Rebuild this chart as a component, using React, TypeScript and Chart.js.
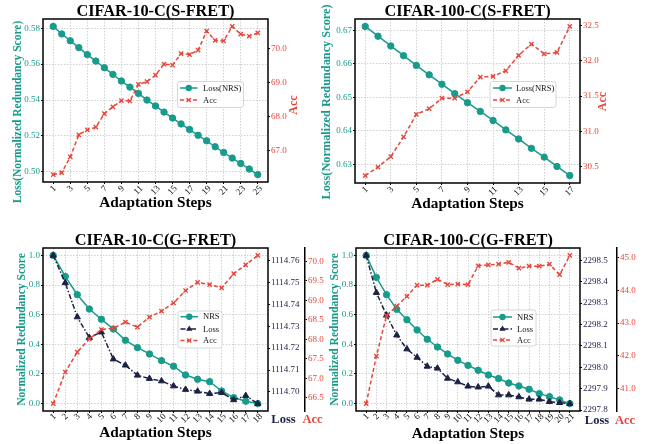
import React, { useEffect, useRef } from "react";
import { Chart, registerables } from "chart.js";

Chart.register(...registerables);

const SERIF = '"Liberation Serif", "Times New Roman", Times, serif';
const TEAL = "#179b8b";
const RED = "#e8463b";
const NAVY = "#1c2144";
const GRID = "#c4c4c4";

// ---------------- data ----------------
const steps10S = [1, 2, 3, 4, 5, 6, 7, 8, 9, 10, 11, 12, 13, 14, 15, 16, 17, 18, 19, 20, 21, 22, 23, 24, 25];
const loss10S = [0.581, 0.5768, 0.573, 0.5692, 0.5653, 0.5617, 0.558, 0.5543, 0.5506, 0.5472, 0.5437, 0.54, 0.5367, 0.5333, 0.53, 0.5267, 0.5236, 0.5204, 0.5173, 0.514, 0.5108, 0.5077, 0.5047, 0.5016, 0.4985];
const acc10S = [66.28, 66.34, 66.8, 67.45, 67.6, 67.68, 68.08, 68.28, 68.46, 68.45, 68.94, 69.02, 69.21, 69.54, 69.51, 69.85, 69.82, 69.95, 70.51, 70.24, 70.22, 70.65, 70.42, 70.36, 70.46];
const xTicks10S = [1, 3, 5, 7, 9, 11, 13, 15, 17, 19, 21, 23, 25];
const lossTicks10S = [0.5, 0.52, 0.54, 0.56, 0.58];
const accTicks10S = [67, 68, 69, 70];

const steps100S = [1, 2, 3, 4, 5, 6, 7, 8, 9, 10, 11, 12, 13, 14, 15, 16, 17];
const loss100S = [0.6711, 0.6682, 0.6653, 0.6624, 0.6595, 0.6567, 0.6539, 0.6511, 0.6484, 0.6458, 0.6431, 0.6403, 0.6376, 0.6348, 0.6322, 0.6294, 0.6267];
const acc100S = [30.37, 30.49, 30.64, 30.92, 31.24, 31.32, 31.47, 31.47, 31.56, 31.77, 31.78, 31.86, 32.08, 32.24, 32.1, 32.12, 32.49];
const xTicks100S = [1, 3, 5, 7, 9, 11, 13, 15, 17];
const lossTicks100S = [0.63, 0.64, 0.65, 0.66, 0.67];
const accTicks100S = [30.5, 31.0, 31.5, 32.0, 32.5];

const steps10G = [1, 2, 3, 4, 5, 6, 7, 8, 9, 10, 11, 12, 13, 14, 15, 16, 17, 18];
const nrs10G = [1.0, 0.858, 0.735, 0.638, 0.569, 0.503, 0.427, 0.378, 0.335, 0.29, 0.252, 0.193, 0.164, 0.148, 0.085, 0.04, 0.016, 0.0];
const loss10G = [1114.7623, 1114.7498, 1114.7342, 1114.7248, 1114.7273, 1114.715, 1114.7122, 1114.7076, 1114.7061, 1114.705, 1114.7027, 1114.7011, 1114.7003, 1114.6992, 1114.6997, 1114.6964, 1114.6983, 1114.6947];
const acc10G = [66.35, 67.16, 67.67, 68.01, 68.25, 68.28, 68.44, 68.31, 68.57, 68.72, 68.93, 69.25, 69.46, 69.4, 69.32, 69.68, 69.91, 70.15];
const xTicks10G = steps10G;
const nrsTicks = [0, 0.2, 0.4, 0.6, 0.8, 1.0];
const lossTicks10G = [1114.7, 1114.71, 1114.72, 1114.73, 1114.74, 1114.75, 1114.76];
const accTicks10G = [66.5, 67.0, 67.5, 68.0, 68.5, 69.0, 69.5, 70.0];

const steps100G = [1, 2, 3, 4, 5, 6, 7, 8, 9, 10, 11, 12, 13, 14, 15, 16, 17, 18, 19, 20, 21];
const nrs100G = [1.0, 0.852, 0.735, 0.636, 0.566, 0.497, 0.434, 0.382, 0.335, 0.292, 0.258, 0.225, 0.193, 0.169, 0.139, 0.119, 0.097, 0.067, 0.047, 0.025, 0.0];
const loss100G = [2298.523, 2298.349, 2298.243, 2298.15, 2298.085, 2298.046, 2298.004, 2297.995, 2297.948, 2297.931, 2297.911, 2297.907, 2297.911, 2297.87, 2297.87, 2297.861, 2297.85, 2297.85, 2297.839, 2297.834, 2297.83];
const acc100G = [40.54, 41.99, 43.23, 43.52, 43.82, 44.16, 44.16, 44.34, 44.18, 44.19, 44.18, 44.75, 44.78, 44.8, 44.86, 44.68, 44.74, 44.74, 44.8, 44.48, 45.07];
const xTicks100G = steps100G;
const lossTicks100G = [2297.8, 2297.9, 2298.0, 2298.1, 2298.2, 2298.3, 2298.4, 2298.5];
const accTicks100G = [41.0, 42.0, 43.0, 44.0, 45.0];

// ---------------- helpers ----------------
function margins(vals: number[], m = 0.05) {
  const lo = Math.min(...vals);
  const hi = Math.max(...vals);
  const d = (hi - lo) * m;
  return { min: lo - d, max: hi + d };
}

const NRS_STYLE = { color: TEAL, style: "circle", radius: 3.2, dash: [] as number[], order: 3 };
const LOSS_STYLE = { color: NAVY, style: "triangle", radius: 3.6, dash: [5, 2, 1.5, 2], order: 2 };
const ACC_STYLE = { color: RED, style: "crossRot", radius: 3, dash: [4, 2.5], order: 1 };

type Axis = { id: string; vals: number[]; ticks: number[]; dec: number; color: string; width: number; spine?: boolean };

const panels: any[] = [
  {
    key: "tl", left: 0, top: 0, w: 318, h: 222,
    area: { l: 43, r: 268, t: 19, b: 182 },
    steps: steps10S, xTicks: xTicks10S, xPad: 3,
    leftAxis: { id: "y", vals: loss10S, ticks: lossTicks10S, dec: 2, color: TEAL, width: 43 },
    rightAxes: [{ id: "yAcc", vals: acc10S, ticks: accTicks10S, dec: 1, color: RED, width: 50 }],
    series: [
      { label: "Loss(NRS)", data: loss10S, axis: "y", ...NRS_STYLE },
      { label: "Acc", data: acc10S, axis: "yAcc", ...ACC_STYLE },
    ],
    title: "CIFAR-10-C(S-FRET)", titleY: 15.5, xlabelY: 207,
    vlabels: [
      { text: "Loss(Normalized Redundancy Score)", x: 18, y: 112, color: TEAL, size: 11.5 },
      { text: "Acc", x: 293.5, y: 105, color: RED, size: 12 },
    ],
    hlabels: [],
    legend: { x: 177.5, y: 81.5, w: 66, h: 26, rows: [88, 100], lx0: 180, lx1: 197.5, tx: 203 },
  },
  {
    key: "tr", left: 318, top: 0, w: 333, h: 222,
    area: { l: 37, r: 262, t: 19, b: 183 },
    steps: steps100S, xTicks: xTicks100S, xPad: 3,
    leftAxis: { id: "y", vals: loss100S, ticks: lossTicks100S, dec: 2, color: TEAL, width: 37 },
    rightAxes: [{ id: "yAcc", vals: acc100S, ticks: accTicks100S, dec: 1, color: RED, width: 71 }],
    series: [
      { label: "Loss(NRS)", data: loss100S, axis: "y", ...NRS_STYLE },
      { label: "Acc", data: acc100S, axis: "yAcc", ...ACC_STYLE },
    ],
    title: "CIFAR-100-C(S-FRET)", titleY: 15.5, xlabelY: 208,
    vlabels: [
      { text: "Loss(Normalized Redundancy Score)", x: 9, y: 102, color: TEAL, size: 12.3 },
      { text: "Acc", x: 285, y: 101.5, color: RED, size: 12 },
    ],
    hlabels: [],
    legend: { x: 172, y: 81.5, w: 66, h: 26, rows: [88, 100], lx0: 175, lx1: 194, tx: 198 },
  },
  {
    key: "bl", left: 0, top: 222, w: 325, h: 222,
    area: { l: 43, r: 268, t: 26, b: 189 },
    steps: steps10G, xTicks: xTicks10G, xPad: 2,
    leftAxis: { id: "y", vals: nrs10G, ticks: nrsTicks, dec: 1, color: TEAL, width: 43 },
    rightAxes: [
      { id: "yLoss", vals: loss10G, ticks: lossTicks10G, dec: 2, color: NAVY, width: 37 },
      { id: "yAcc", vals: acc10G, ticks: accTicks10G, dec: 1, color: RED, width: 20, spine: true },
    ],
    series: [
      { label: "NRS", data: nrs10G, axis: "y", ...NRS_STYLE },
      { label: "Loss", data: loss10G, axis: "yLoss", ...LOSS_STYLE },
      { label: "Acc", data: acc10G, axis: "yAcc", ...ACC_STYLE },
    ],
    title: "CIFAR-10-C(G-FRET)", titleY: 22.7, xlabelY: 215,
    vlabels: [{ text: "Normalized Redundancy Score", x: 22, y: 107.5, color: TEAL, size: 11.5 }],
    hlabels: [
      { text: "Loss", x: 283.5, y: 201, color: NAVY, size: 12.5 },
      { text: "Acc", x: 312.5, y: 201, color: RED, size: 12.5 },
    ],
    legend: { x: 178, y: 89, w: 44, h: 37, rows: [94.7, 107, 118.5], lx0: 180.5, lx1: 198, tx: 203 },
  },
  {
    key: "br", left: 325, top: 222, w: 326, h: 222,
    area: { l: 31, r: 255, t: 26, b: 189 },
    steps: steps100G, xTicks: xTicks100G, xPad: 2,
    leftAxis: { id: "y", vals: nrs100G, ticks: nrsTicks, dec: 1, color: TEAL, width: 31 },
    rightAxes: [
      { id: "yLoss", vals: loss100G, ticks: lossTicks100G, dec: 1, color: NAVY, width: 37 },
      { id: "yAcc", vals: acc100G, ticks: accTicks100G, dec: 1, color: RED, width: 34, spine: true },
    ],
    series: [
      { label: "NRS", data: nrs100G, axis: "y", ...NRS_STYLE },
      { label: "Loss", data: loss100G, axis: "yLoss", ...LOSS_STYLE },
      { label: "Acc", data: acc100G, axis: "yAcc", ...ACC_STYLE },
    ],
    title: "CIFAR-100-C(G-FRET)", titleY: 22.7, xlabelY: 216,
    vlabels: [{ text: "Normalized Redundancy Score", x: 10, y: 107.5, color: TEAL, size: 11.5 }],
    hlabels: [
      { text: "Loss", x: 272, y: 202, color: NAVY, size: 12.5 },
      { text: "Acc", x: 300, y: 202, color: RED, size: 12.5 },
    ],
    legend: { x: 166, y: 88, w: 45, h: 36, rows: [95, 107, 118], lx0: 168, lx1: 187, tx: 192 },
  },
];

function drawMarker(ctx: CanvasRenderingContext2D, style: string, x: number, y: number, r: number, color: string) {
  ctx.save();
  ctx.setLineDash([]);
  ctx.fillStyle = color;
  ctx.strokeStyle = color;
  if (style === "circle") {
    ctx.beginPath();
    ctx.arc(x, y, r, 0, Math.PI * 2);
    ctx.fill();
  } else if (style === "triangle") {
    ctx.beginPath();
    for (let k = 0; k < 3; k++) {
      const ang = (k * 2 * Math.PI) / 3;
      const px = x + Math.sin(ang) * r;
      const py = y - Math.cos(ang) * r;
      if (k === 0) ctx.moveTo(px, py);
      else ctx.lineTo(px, py);
    }
    ctx.closePath();
    ctx.fill();
  } else {
    ctx.lineWidth = 1.4;
    const d = r * Math.SQRT1_2;
    ctx.beginPath();
    ctx.moveTo(x - d, y - d);
    ctx.lineTo(x + d, y + d);
    ctx.moveTo(x + d, y - d);
    ctx.lineTo(x - d, y + d);
    ctx.stroke();
  }
  ctx.restore();
}

function roundRectPath(ctx: CanvasRenderingContext2D, x: number, y: number, w: number, h: number, r: number) {
  ctx.beginPath();
  ctx.moveTo(x + r, y);
  ctx.lineTo(x + w - r, y);
  ctx.quadraticCurveTo(x + w, y, x + w, y + r);
  ctx.lineTo(x + w, y + h - r);
  ctx.quadraticCurveTo(x + w, y + h, x + w - r, y + h);
  ctx.lineTo(x + r, y + h);
  ctx.quadraticCurveTo(x, y + h, x, y + h - r);
  ctx.lineTo(x, y + r);
  ctx.quadraticCurveTo(x, y, x + r, y);
  ctx.closePath();
}

function decoPlugin(p: any) {
  return {
    id: "deco_" + p.key,
    afterDraw(chart: any) {
      const ctx: CanvasRenderingContext2D = chart.ctx;
      const a = chart.chartArea;
      const cx = (a.left + a.right) / 2;
      ctx.save();
      // x tick labels (rotated 45°, centred on tick)
      const xs = chart.scales.x;
      ctx.font = `9px ${SERIF}`;
      ctx.fillStyle = "#111";
      ctx.textAlign = "center";
      ctx.textBaseline = "middle";
      for (const v of p.xTicks) {
        const px = xs.getPixelForValue(v);
        const label = String(v);
        const tw = ctx.measureText(label).width;
        const half = ((tw + 6) * Math.SQRT1_2) / 2;
        ctx.save();
        ctx.translate(px, a.bottom + p.xPad + half);
        ctx.rotate(-Math.PI / 4);
        ctx.fillText(label, 0, 0);
        ctx.restore();
      }
      // spines
      ctx.setLineDash([]);
      ctx.strokeStyle = "#000";
      ctx.lineWidth = 1.5;
      ctx.strokeRect(a.left, a.top, a.right - a.left, a.bottom - a.top);
      // title & x label
      ctx.fillStyle = "#000";
      ctx.textBaseline = "alphabetic";
      ctx.font = `bold 16.3px ${SERIF}`;
      ctx.fillText(p.title, cx, p.titleY);
      ctx.font = `bold 15.3px ${SERIF}`;
      ctx.fillText("Adaptation Steps", cx, p.xlabelY);
      // vertical labels
      for (const l of p.vlabels) {
        ctx.save();
        ctx.translate(l.x, l.y);
        ctx.rotate(-Math.PI / 2);
        ctx.font = `bold ${l.size}px ${SERIF}`;
        ctx.fillStyle = l.color;
        ctx.textAlign = "center";
        ctx.textBaseline = "middle";
        ctx.fillText(l.text, 0, 0);
        ctx.restore();
      }
      for (const l of p.hlabels) {
        ctx.font = `bold ${l.size}px ${SERIF}`;
        ctx.fillStyle = l.color;
        ctx.textAlign = "center";
        ctx.textBaseline = "alphabetic";
        ctx.fillText(l.text, l.x, l.y);
      }
      // legend
      const L = p.legend;
      roundRectPath(ctx, L.x, L.y, L.w, L.h, 2.5);
      ctx.fillStyle = "rgba(255,255,255,0.85)";
      ctx.fill();
      ctx.strokeStyle = "#cccccc";
      ctx.lineWidth = 0.8;
      ctx.stroke();
      p.series.forEach((s: any, i: number) => {
        const y = L.rows[i];
        ctx.save();
        ctx.strokeStyle = s.color;
        ctx.lineWidth = 1.5;
        ctx.setLineDash(s.dash);
        ctx.beginPath();
        ctx.moveTo(L.lx0, y);
        ctx.lineTo(L.lx1, y);
        ctx.stroke();
        ctx.restore();
        drawMarker(ctx, s.style, (L.lx0 + L.lx1) / 2, y, s.radius, s.color);
        ctx.font = `8.5px ${SERIF}`;
        ctx.fillStyle = "#111";
        ctx.textAlign = "left";
        ctx.textBaseline = "middle";
        ctx.fillText(s.label, L.tx, y + 0.5);
      });
      ctx.restore();
    },
  };
}

function yScale(ax: Axis, position: string, onChart: boolean, weight: number) {
  const r = margins(ax.vals);
  return {
    type: "linear",
    position,
    weight,
    min: r.min,
    max: r.max,
    afterBuildTicks: (s: any) => {
      s.ticks = ax.ticks.map((v) => ({ value: v }));
    },
    afterFit: (s: any) => {
      s.width = ax.width;
    },
    ticks: {
      autoSkip: false,
      color: ax.color,
      font: { family: SERIF, size: 9 },
      padding: 1,
      callback: (v: any) => Number(v).toFixed(ax.dec),
    },
    grid: {
      display: true,
      drawOnChartArea: onChart,
      color: GRID,
      lineWidth: 0.8,
      drawTicks: true,
      tickLength: 2,
      tickColor: "#000",
      tickWidth: 1,
    },
    border: { display: !!ax.spine, color: "#000", width: 1.5, dash: [1.5, 1.5] },
  };
}

function buildConfig(p: any) {
  const n = p.steps.length;
  const xm = (p.steps[n - 1] - p.steps[0]) * 0.05;
  const scales: any = {
    x: {
      type: "linear",
      position: "bottom",
      min: p.steps[0] - xm,
      max: p.steps[n - 1] + xm,
      afterBuildTicks: (s: any) => {
        s.ticks = p.xTicks.map((v: number) => ({ value: v }));
      },
      afterFit: (s: any) => {
        s.height = p.h - p.area.b;
      },
      ticks: { display: false },
      grid: { color: GRID, lineWidth: 0.8, drawTicks: true, tickLength: 2, tickColor: "#000", tickWidth: 1 },
      border: { display: false, dash: [1.5, 1.5] },
    },
    y: yScale(p.leftAxis, "left", true, 0),
  };
  p.rightAxes.forEach((ax: Axis, i: number) => {
    scales[ax.id] = yScale(ax, "right", false, i);
  });
  return {
    type: "line",
    data: {
      datasets: p.series.map((s: any) => ({
        label: s.label,
        data: p.steps.map((x: number, j: number) => ({ x, y: s.data[j] })),
        xAxisID: "x",
        yAxisID: s.axis,
        borderColor: s.color,
        backgroundColor: s.color,
        borderWidth: 1.5,
        borderDash: s.dash,
        pointStyle: s.style,
        pointRadius: s.radius,
        pointBorderWidth: s.style === "crossRot" ? 1.4 : 1,
        pointBackgroundColor: s.color,
        pointBorderColor: s.color,
        tension: 0,
        order: s.order,
      })),
    },
    options: {
      responsive: false,
      animation: false,
      events: [],
      layout: { padding: { top: p.area.t, left: 0, right: 0, bottom: 0 } },
      plugins: { legend: { display: false }, tooltip: { enabled: false }, title: { display: false } },
      scales,
    },
    plugins: [decoPlugin(p)],
  };
}

function Panel({ p }: { p: any }) {
  const ref = useRef<HTMLCanvasElement>(null);
  useEffect(() => {
    if (!ref.current) return;
    const chart = new Chart(ref.current, buildConfig(p) as any);
    return () => chart.destroy();
  }, [p]);
  return (
    <canvas
      ref={ref}
      width={p.w}
      height={p.h}
      style={{ position: "absolute", left: p.left, top: p.top, width: p.w, height: p.h }}
    />
  );
}

export default function App() {
  return (
    <div style={{ position: "fixed", left: 0, top: 0, width: 651, height: 444, background: "#fff", overflow: "hidden" }}>
      {panels.map((p) => (
        <Panel key={p.key} p={p} />
      ))}
    </div>
  );
}
